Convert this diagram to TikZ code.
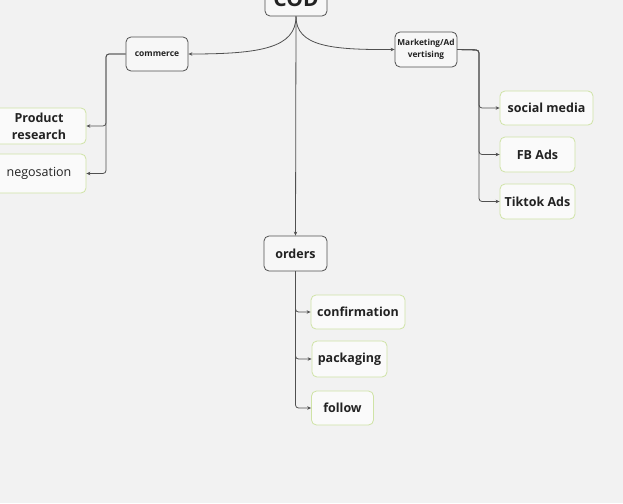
\documentclass[tikz,border=0pt]{standalone}
\usepackage{fontspec}
\setmainfont{Open Sans}
\usetikzlibrary{arrows.meta}
\definecolor{bg}{HTML}{F2F2F2}
\definecolor{ln}{HTML}{505050}
\definecolor{grn}{HTML}{CFE3A6}
\definecolor{txt}{HTML}{222222}
\tikzset{
  parent/.style={draw=ln, line width=0.8pt, fill=bg!60!white, rounded corners=5pt, inner sep=0pt, text=txt, font=\bfseries},
  child/.style={draw=grn, line width=0.8pt, fill=bg!40!white, rounded corners=5pt, inner sep=0pt, text=txt, font=\fontsize{12.5}{15}\selectfont\bfseries, align=center},
  conn/.style={draw=ln, line width=0.8pt, -{Stealth[length=4pt,width=3.5pt]}, rounded corners=3pt},
}
\begin{document}
\begin{tikzpicture}[x=1pt,y=-1pt]
\useasboundingbox (0,0) rectangle (623,503);
\clip (0,0) rectangle (623,503);
\fill[bg] (0,0) rectangle (623,503);
% parents
\node[parent, minimum width=62pt, minimum height=34pt, font=\fontsize{21}{24}\selectfont\bfseries] (cod) at (296,-1) {COD};
\node[parent, minimum width=62pt, minimum height=34pt, font=\fontsize{8.5}{10}\selectfont\bfseries] (com) at (157,54) {commerce};
\node[parent, minimum width=62pt, minimum height=35pt, align=center, font=\fontsize{8.3}{11.5}\selectfont\bfseries] (mkt) at (426,49.5) {Marketing/Ad\\vertising};
\node[parent, minimum width=63pt, minimum height=35pt, font=\fontsize{12.5}{15}\selectfont\bfseries] (ord) at (295.5,253.5) {orders};
% commerce children
\node[child, minimum width=94pt, minimum height=36pt, font=\fontsize{12.5}{17}\selectfont\bfseries] (pr) at (39,126) {\raisebox{-1.5pt}{Product}\\\raisebox{-1.5pt}{research}};
\node[child, minimum width=94pt, minimum height=39pt, font=\fontsize{12.5}{15}\selectfont] (neg) at (39,173.5) {negosation};
% marketing children
\node[child, minimum width=93pt, minimum height=34pt] (sm) at (546.5,108) {social media};
\node[child, minimum width=75pt, minimum height=35pt] (fb) at (537.5,154.5) {FB Ads};
\node[child, minimum width=75pt, minimum height=35pt] (tt) at (537.5,201.5) {Tiktok Ads};
% orders children
\node[child, minimum width=94pt, minimum height=34pt] (cf) at (358,312) {confirmation};
\node[child, minimum width=75pt, minimum height=36pt] (pk) at (349.5,359) {packaging};
\node[child, minimum width=62pt, minimum height=34pt] (fl) at (342.5,408) {follow};
% connectors from COD
\draw[conn, rounded corners=0pt] (cod.south) .. controls (296,48) and (260,54) .. (com.east);
\draw[conn, rounded corners=0pt] (cod.south) .. controls (296,46) and (330,50) .. (mkt.west);
\draw[conn] (cod.south) -- (ord.north);
% commerce
\coordinate (cj) at (106,54);
\draw[conn] (com.west) -- (cj) |- (pr.east);
\draw[conn] (com.west) -- (cj) |- (neg.east);
% marketing
\coordinate (mj) at (479,50);
\draw[conn] (mkt.east) -- (mj) |- (sm.west);
\draw[conn] (mkt.east) -- (mj) |- (fb.west);
\draw[conn] (mkt.east) -- (mj) |- (tt.west);
% orders
\draw[conn] (ord.south) |- (cf.west);
\draw[conn] (ord.south) |- (pk.west);
\draw[conn] (ord.south) |- (fl.west);
\end{tikzpicture}
\end{document}
